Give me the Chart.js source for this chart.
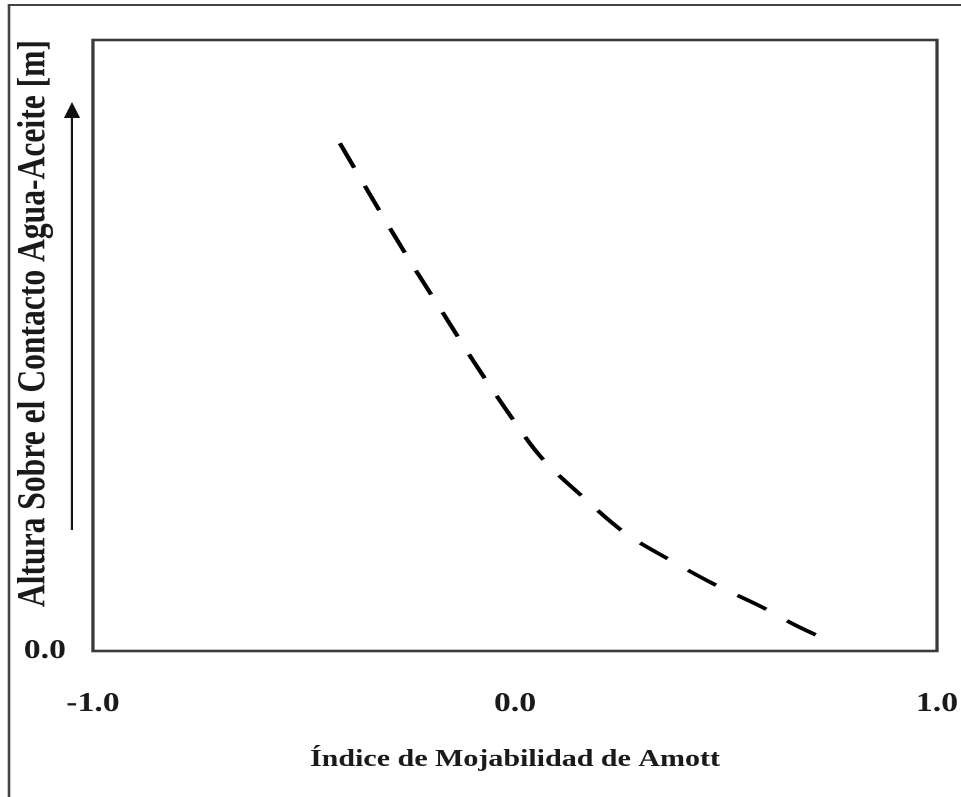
<!DOCTYPE html>
<html>
<head>
<meta charset="utf-8">
<script src="https://cdn.jsdelivr.net/npm/chart.js@4/dist/chart.umd.min.js"></script>
<style>
  html, body { margin: 0; padding: 0; background: #fff; overflow: hidden; }
  /* the source figure is stretched sideways, so the chart is laid out narrower and widened */
  #wrap { position: relative; width: 769px; height: 797px; transform: scaleX(1.2497); transform-origin: 0 0; }
</style>
</head>
<body>
<div id="wrap"><canvas id="amott-chart"></canvas></div>
<script>
  'use strict';

  // Values.
  const wettabilityIndex = [ -0.415, -0.318, -0.246, -0.175, -0.100, -0.024, 0.057, 0.161, 0.261, 0.367, 0.467, 0.585, 0.668, 0.746 ];
  const heightAboveContact = [ 8.31, 7.17, 6.35, 5.58, 4.76, 3.98, 3.21, 2.52, 1.93, 1.49, 1.11, 0.72, 0.41, 0.16 ];
  const xTickValues = [ -1, 0, 1 ];
  const yTickValues = [ 0 ];

  const serif = 'Liberation Serif, Times New Roman, serif';
  const ink = '#1a1a1a';

  // Frame round the plot, outer picture edge and the "up" arrow.
  const decorations = {
    id: 'decorations',
    afterDraw( chart ) {
      const ctx = chart.ctx;
      const a = chart.chartArea;
      ctx.save();

      ctx.strokeStyle = '#3a3a3a';
      ctx.lineWidth = 2.6;
      ctx.strokeRect( a.left, a.top, a.right - a.left, a.bottom - a.top );

      // outer border of the picture (top and left only)
      ctx.lineWidth = 2;
      ctx.strokeStyle = '#444';
      ctx.beginPath();
      ctx.moveTo( 7.2, chart.height );
      ctx.lineTo( 7.2, 5 );
      ctx.lineTo( chart.width, 5 );
      ctx.stroke();

      // arrow next to the y axis title
      const ax = 57.6;
      ctx.strokeStyle = '#111';
      ctx.fillStyle = '#111';
      ctx.lineWidth = 1.8;
      ctx.beginPath();
      ctx.moveTo( ax, 530 );
      ctx.lineTo( ax, 112 );
      ctx.stroke();
      ctx.beginPath();
      ctx.moveTo( ax, 102 );
      ctx.lineTo( ax - 6.5, 118 );
      ctx.lineTo( ax + 6.5, 118 );
      ctx.closePath();
      ctx.fill();

      ctx.restore();
    }
  };

  const points = wettabilityIndex.map( ( x, i ) => ( { x: x, y: heightAboveContact[ i ] } ) );

  new Chart( document.getElementById( 'amott-chart' ), {
    type: 'scatter',
    data: {
      datasets: [ {
        data: points,
        showLine: true,
        borderColor: '#000',
        borderWidth: 3.6,
        borderDash: [ 27, 20 ],
        borderCapStyle: 'butt',
        cubicInterpolationMode: 'monotone',
        pointRadius: 0,
        fill: false,
      } ]
    },
    options: {
      responsive: true,
      maintainAspectRatio: false,
      devicePixelRatio: 2,
      animation: false,
      events: [],
      layout: {
        padding: { left: 0, top: 40, right: 19.2, bottom: 0 },
      },
      plugins: {
        legend: { display: false },
        tooltip: { enabled: false },
      },
      scales: {
        x: {
          type: 'linear',
          min: -1,
          max: 1,
          grid: { display: false, drawTicks: false },
          border: { display: false },
          afterBuildTicks: ( scale ) => {
            scale.ticks = xTickValues.map( ( v ) => ( { value: v } ) );
          },
          afterFit: ( scale ) => {
            scale.height = 146;
            // end labels may overhang; the layout padding already leaves room
            scale.paddingLeft = 0;
            scale.paddingRight = 0;
          },
          ticks: {
            padding: 37,
            maxRotation: 0,
            color: ink,
            font: { family: serif, size: 27, weight: 'bold' },
            callback: ( v ) => Number( v ).toFixed( 1 ),
          },
          title: {
            display: true,
            text: 'Índice de Mojabilidad de Amott',
            color: ink,
            font: { family: serif, size: 24, weight: 'bold' },
            padding: { top: 0, bottom: 22.6 },
          },
        },
        y: {
          type: 'linear',
          min: 0,
          max: 10,
          grid: { display: false, drawTicks: false },
          border: { display: false },
          afterBuildTicks: ( scale ) => {
            scale.ticks = yTickValues.map( ( v ) => ( { value: v } ) );
          },
          afterFit: ( scale ) => {
            scale.width = 74.4;
          },
          ticks: {
            padding: 21.6,
            color: ink,
            font: { family: serif, size: 27, weight: 'bold' },
            callback: ( v ) => Number( v ).toFixed( 1 ),
          },
          title: {
            display: true,
            text: 'Altura Sobre el Contacto Agua-Aceite [m]',
            align: 'end',
            color: ink,
            font: { family: serif, size: 31.6, weight: 'bold' },
            padding: { top: 8.6, bottom: 0 },
          },
        },
      },
    },
    plugins: [ decorations ],
  } );
</script>
</body>
</html>
